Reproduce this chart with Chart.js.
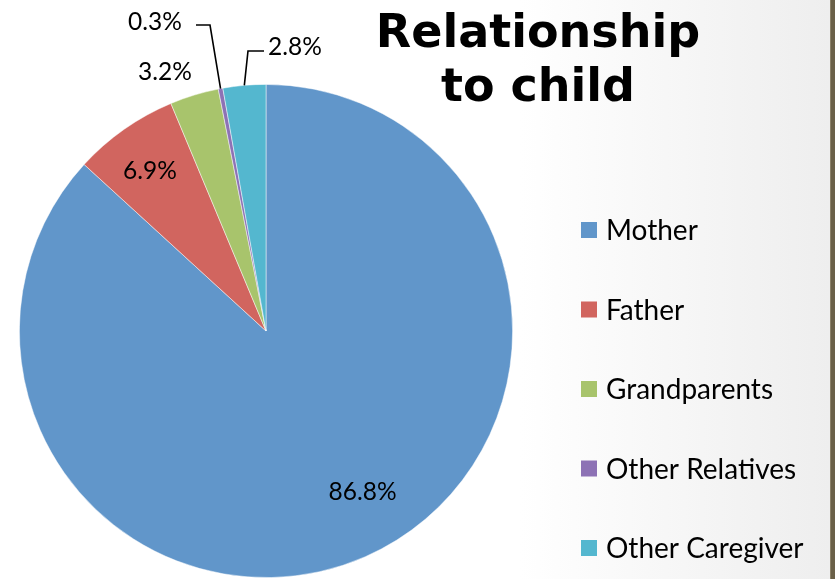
<!DOCTYPE html>
<html>
<head>
<meta charset="utf-8">
<script src="https://cdn.jsdelivr.net/npm/chart.js@4/dist/chart.umd.min.js"></script>
<style>
  html, body { margin: 0; padding: 0; background: #fff; }
  #wrap { position: relative; width: 835px; height: 579px; }
  canvas { display: block; }
</style>
</head>
<body>
<div id="wrap"><canvas id="c" width="835" height="579"></canvas></div>
<script>
// Relationship of respondent to the child (percent of respondents)
const categories = ['Mother', 'Father', 'Grandparents', 'Other Relatives', 'Other Caregiver'];
const shares = [86.8, 6.9, 3.2, 0.3, 2.8];
const sliceColors = ['#6196ca', '#d1655f', '#a8c46c', '#8d72b5', '#54b7cf'];
const titleLines = ['Relationship', 'to child'];

// Where each percentage label sits: inside labels by polar position
// (angle in degrees from 12 o'clock clockwise, radius as fraction of R),
// outside labels by text anchor with an elbow leader back to the slice.
const labelLayout = [
  { polar: { deg: 149, r: 0.76 } },
  { polar: { deg: 324, r: 0.80 } },
  { at: [165, 72] },
  { at: [155, 22], leader: { from: [196, 25], elbow: [210, 25] } },
  { at: [295, 47], leader: { from: [264, 51], elbow: [248, 51] } }
];

const pageDecor = {
  id: 'pageDecor',
  beforeDraw(chart) {
    const ctx = chart.ctx, W = chart.width, H = chart.height;
    ctx.save();
    const g = ctx.createLinearGradient(520, 0, 830, 0);
    g.addColorStop(0, '#ffffff');
    g.addColorStop(1, '#eeeeee');
    ctx.fillStyle = g;
    ctx.fillRect(0, 0, W, H);
    ctx.fillStyle = '#6a6048';
    ctx.fillRect(830, 0, 5, H);
    ctx.fillStyle = '#8a8068';
    ctx.fillRect(830, 0, 1, H);
    ctx.restore();
  },
  afterDraw(chart) {
    const ctx = chart.ctx;
    const meta = chart.getDatasetMeta(0);
    ctx.save();

    // title
    ctx.fillStyle = '#000';
    ctx.font = 'bold 46px "DejaVu Sans", Verdana, sans-serif';
    ctx.textAlign = 'center';
    ctx.textBaseline = 'alphabetic';
    ctx.fillText(titleLines[0], 538, 47);
    ctx.fillText(titleLines[1], 538, 101);

    // legend
    ctx.font = '28px Lato, "Open Sans", sans-serif';
    ctx.textAlign = 'left';
    ctx.textBaseline = 'middle';
    categories.forEach((name, i) => {
      const y = 231 + i * 79.5;
      ctx.fillStyle = sliceColors[i];
      ctx.fillRect(581, y - 9, 16, 16);
      ctx.fillStyle = '#000';
      ctx.fillText(name, 606, y);
    });

    // percentage labels
    ctx.font = '24.5px Lato, "Open Sans", sans-serif';
    ctx.textAlign = 'center';
    meta.data.forEach((arc, i) => {
      const lay = labelLayout[i];
      const text = shares[i].toFixed(1) + '%';
      let x, y;
      if (lay.polar) {
        const a = (lay.polar.deg - 90) * Math.PI / 180;
        x = arc.x + Math.cos(a) * arc.outerRadius * lay.polar.r;
        y = arc.y + Math.sin(a) * arc.outerRadius * lay.polar.r;
      } else {
        [x, y] = lay.at;
      }
      ctx.fillStyle = '#000';
      ctx.fillText(text, x, y);
      if (lay.leader) {
        const mid = (arc.startAngle + arc.endAngle) / 2;
        const ex = arc.x + Math.cos(mid) * arc.outerRadius;
        const ey = arc.y + Math.sin(mid) * arc.outerRadius;
        ctx.strokeStyle = '#000';
        ctx.lineWidth = 1.6;
        ctx.beginPath();
        ctx.moveTo(lay.leader.from[0], lay.leader.from[1]);
        ctx.lineTo(lay.leader.elbow[0], lay.leader.elbow[1]);
        ctx.lineTo(ex, ey);
        ctx.stroke();
      }
    });
    ctx.restore();
  }
};

new Chart(document.getElementById('c'), {
  type: 'pie',
  data: {
    labels: categories,
    datasets: [{
      data: shares,
      backgroundColor: sliceColors,
      borderColor: 'rgba(255,255,255,0.6)',
      borderWidth: 0.8
    }]
  },
  options: {
    responsive: false,
    animation: false,
    events: [],
    layout: { padding: { left: 19, right: 322, top: 84, bottom: 1 } },
    plugins: {
      legend: { display: false },
      tooltip: { enabled: false },
      title: { display: false }
    }
  },
  plugins: [pageDecor]
});
</script>
</body>
</html>
